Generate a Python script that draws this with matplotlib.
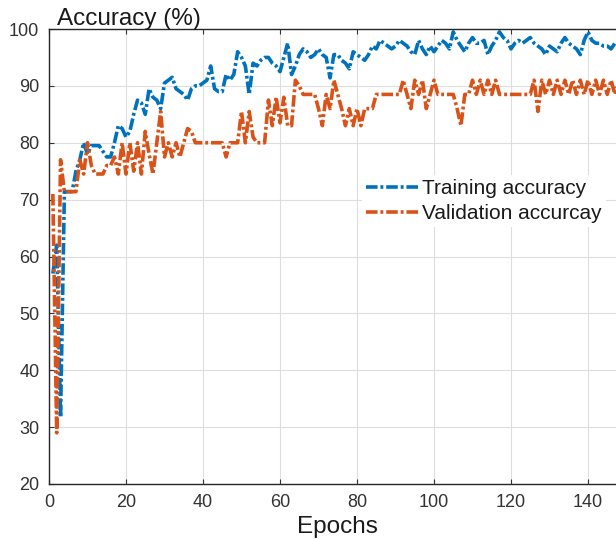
import matplotlib
matplotlib.use("Agg")
import matplotlib.pyplot as plt

# 에폭별 정확도
train_acc = [
    57, 62, 31.7, 71.4, 71.4, 71.4, 75, 77, 80, 78,
    79.5, 79.5, 79.5, 78.5, 77.5, 77.5, 80, 83, 82.5, 81,
    82, 85, 87.5, 87, 85, 89.5, 88, 87.5, 86, 90.5,
    91, 91.5, 89.5, 89, 88.5, 87.5, 89.5, 90, 90, 90.5,
    91, 93.5, 89.5, 89, 89, 92, 91, 92, 96, 95,
    93.5, 88.5, 94, 93.5, 94.5, 95, 95, 94, 93.5, 92.5,
    95, 97.5, 92, 93.5, 95.5, 96.5, 96, 95, 95.5, 96.5,
    95.5, 95, 91.4, 95.5, 95.5, 94.5, 94, 93, 96, 95.5,
    95, 94.5, 95.5, 97, 96.5, 98, 97.5, 97, 96.5, 97,
    98, 97.5, 97, 96, 95.5, 98, 96.5, 95.5, 97, 96,
    97, 98, 97.5, 96.5, 99.5, 98, 97, 96, 97.5, 98.5,
    97.5, 97.5, 98, 95.5, 97, 98, 99.5, 98.5, 98, 96.5,
    97.5, 98, 97.5, 98, 98.5, 97.5, 97, 96.5, 95.5, 97,
    96.5, 96, 97.5, 98.5, 97.5, 97, 96.5, 95.5, 98, 99.5,
    98, 97.5, 97.5, 97, 97, 96.5, 97.5, 97, 97, 97.5,
]
val_acc = [
    71, 29, 77, 71.4, 71.4, 71.4, 71.4, 77, 74.5, 80,
    76, 74.5, 74.5, 74.5, 76, 76, 77.5, 74.5, 80, 74.5,
    80, 75, 80, 74.5, 82, 78, 74.5, 80, 85.5, 77.5,
    80, 77.5, 80, 77.5, 80, 82.5, 82, 80, 80, 80,
    80, 80, 80, 80, 80, 77.5, 80, 80, 80, 85.5,
    80, 85.5, 81, 80, 80, 80, 87.5, 83, 88, 83.5,
    88, 83, 83, 91, 90, 88.5, 88.5, 88.5, 88.5, 86,
    83, 88.5, 86, 91, 88.5, 86, 83, 86, 83, 86,
    83, 86, 86, 86, 88.5, 88.5, 88.5, 88.5, 88.5, 88.5,
    88.5, 91, 88.5, 86, 91, 88.5, 91, 86, 88.5, 91,
    88.5, 88.5, 88.5, 88.5, 88.5, 86, 83, 88.5, 88.5, 91,
    88.5, 91, 88.5, 91, 88.5, 91, 88.5, 88.5, 88.5, 88.5,
    88.5, 88.5, 88.5, 88.5, 88.5, 91, 85.5, 91, 88.5, 91,
    88.5, 91, 88.5, 91, 88.5, 91, 88.5, 91, 88.5, 91,
    88.5, 91, 88.5, 91, 88.5, 91, 88.5, 91, 88.5, 91,
]
epochs = list(range(1, len(train_acc) + 1))

plt.rcParams["font.family"] = ["Liberation Sans", "DejaVu Sans"]

fig = plt.figure(figsize=(6.16, 5.40), dpi=100)
ax = fig.add_axes([49 / 616, 1 - 484 / 540, 577.5 / 616, 455 / 540])

dash = (0, (3.2, 0.8, 0.8, 0.8))
ax.plot(epochs, train_acc, color="#0072BD", lw=2.6, linestyle=dash,
        label="Training accuracy")
ax.plot(epochs, val_acc, color="#D95319", lw=2.6, linestyle=dash,
        label="Validation accurcay")

ax.set_xlim(0, 150)
ax.set_ylim(20, 100)
ax.set_xticks(range(0, 141, 20))
ax.set_yticks(range(20, 101, 10))
ax.grid(True, color="#dedede", lw=0.8)
ax.set_axisbelow(True)
ax.tick_params(direction="in", length=3.5, width=0.8, labelsize=13,
               colors="#333333", pad=7, top=True, right=True)
for s in ax.spines.values():
    s.set_color("#262626")
    s.set_linewidth(1.0)

fig.text(57 / 616, 1 - 25 / 540, "Accuracy (%)", fontsize=17.5,
         color="#1a1a1a", va="baseline", ha="left")
fig.text(337 / 616, 1 - 533 / 540, "Epochs", fontsize=17.5,
         color="#1a1a1a", va="baseline", ha="center")

leg = ax.legend(loc="center left", bbox_to_anchor=(362 / 616, 1 - 201 / 540),
                bbox_transform=fig.transFigure, fontsize=15, frameon=True,
                facecolor="white", edgecolor="none", framealpha=1,
                handlelength=2.6, handletextpad=0.1, labelspacing=0.3,
                borderpad=0.2, borderaxespad=0)
for t in leg.get_texts():
    t.set_color("#1a1a1a")

fig.savefig("out.png", dpi=100)
